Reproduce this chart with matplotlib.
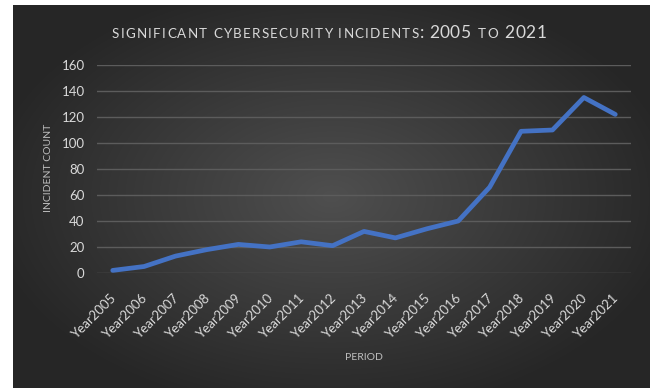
import numpy as np
import matplotlib
matplotlib.use("Agg")
import matplotlib.pyplot as plt
from matplotlib.transforms import ScaledTranslation

# incidents per year
years = ["Year2005", "Year2006", "Year2007", "Year2008", "Year2009", "Year2010",
         "Year2011", "Year2012", "Year2013", "Year2014", "Year2015", "Year2016",
         "Year2017", "Year2018", "Year2019", "Year2020", "Year2021"]
incidents = [2, 5, 13, 18, 22, 20, 24, 21, 32, 27, 34, 40, 66, 109, 110, 135, 122]
y_ticks = [0, 20, 40, 60, 80, 100, 120, 140, 160]

W, H = 653, 388
FONT = "Lato"
TXT = "#d9d9d9"
LINE = "#4472c4"

fig = plt.figure(figsize=(W / 100, H / 100), dpi=100)
fig.patch.set_facecolor("white")

# dark chart background with a radial glow
bg = fig.add_axes([13 / W, 0, 637 / W, 383 / H])
bg.set_axis_off()
gx, gy = np.meshgrid(np.linspace(-1, 1, 400), np.linspace(-1, 1, 240))
r = np.sqrt(gx ** 2 + (gy / 1.05) ** 2)
shade = 0.31 - 0.16 * np.clip(r, 0, 1.1) / 1.1
shade = np.clip(shade, 0.145, 0.31)
bg.imshow(np.dstack([shade] * 3), aspect="auto", extent=[0, 1, 0, 1],
          interpolation="bilinear")

ax = fig.add_axes([97 / W, 1 - 273 / H, (631 - 97) / W, (273 - 65) / H])
ax.patch.set_alpha(0)
x = np.arange(len(years))
ax.plot(x, incidents, color=LINE, lw=3.4, solid_capstyle="round",
        solid_joinstyle="round", zorder=3)
ax.set_xlim(-0.5, len(years) - 0.5)
ax.set_ylim(0, 160)
ax.set_yticks(y_ticks)
ax.set_yticklabels([str(v) for v in y_ticks], fontsize=9.5, color=TXT,
                   fontfamily=FONT)
ax.set_xticks(x)
ax.set_xticklabels(years, rotation=45, ha="right", fontsize=9.5, color=TXT,
                   fontfamily=FONT)
ax.tick_params(axis="both", length=0)
ax.tick_params(axis="y", pad=9)
ax.tick_params(axis="x", pad=13)
for lbl in ax.get_xticklabels():
    lbl.set_transform(lbl.get_transform() +
                      ScaledTranslation(6 / 100, 0, fig.dpi_scale_trans))
ax.grid(axis="y", color="#5c5c5c", lw=1.0)
for s in ax.spines.values():
    s.set_visible(False)

fig.text(48 / W, 1 - 168 / H, "INCIDENT COUNT", rotation=90, ha="center",
         va="center", fontsize=7.5, color="#bfbfbf", fontfamily=FONT)
fig.text(364 / W, 1 - 357 / H, "PERIOD", ha="center", va="center",
         fontsize=7.5, color="#bfbfbf", fontfamily=FONT)

# title: small caps words with letter spacing, full-size figures
# (text, font size, gap before px, extra spacing px)
pieces = [("SIGNIFICANT CYBERSECURITY INCIDENTS", 9.6, 0, 1.3),
          (":", 12.5, 1.5, 0),
          ("2005", 12.5, 4, 0.5),
          ("TO", 9.6, 7, 1.5),
          ("2021", 12.5, 7, 0.5)]
base_y = 1 - 38.5 / H
fig.canvas.draw()
rend = fig.canvas.get_renderer()


def advance(s, size):
    # width of a string including trailing spaces
    probe = fig.text(0, 0, s + "|", fontsize=size, fontfamily=FONT)
    bar = fig.text(0, 0, "|", fontsize=size, fontfamily=FONT)
    w = probe.get_window_extent(rend).width - bar.get_window_extent(rend).width
    probe.remove()
    bar.remove()
    return w


layout = []
for s, size, gap, track in pieces:
    adv = [advance(c, size) * (0.9 if c == " " else 1) for c in s]
    layout.append((s, size, gap, track, adv))
total = sum(gap + sum(adv) + track * (len(s) - 1)
            for s, size, gap, track, adv in layout)
px = 329 - total / 2
for s, size, gap, track, adv in layout:
    px += gap
    for i, (c, a) in enumerate(zip(s, adv)):
        fig.text(px / W, base_y, c, fontsize=size, color=TXT, fontfamily=FONT,
                 va="baseline", ha="left")
        px += a + (track if i < len(s) - 1 else 0)

fig.savefig("out.png", dpi=100, facecolor=fig.get_facecolor())
